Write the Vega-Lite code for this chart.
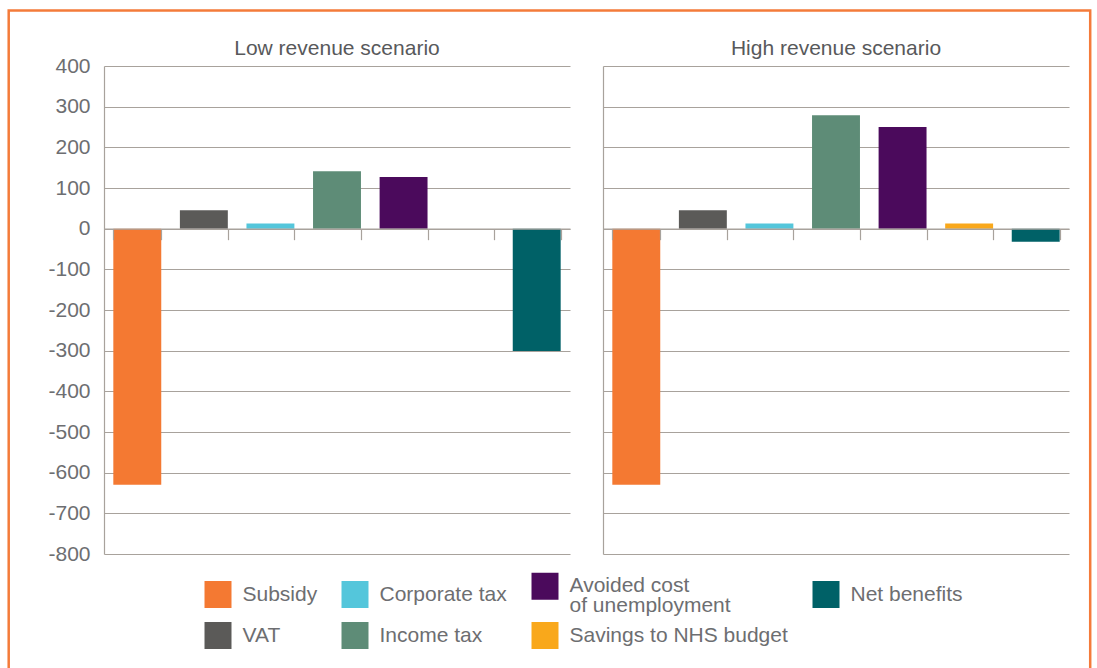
{
  "$schema": "https://vega.github.io/schema/vega-lite/v6.json",
  "padding": {"left": 8, "top": 10, "right": 5, "bottom": -4},
  "background": "white",
  "data": {
    "values": [
      {"scenario": "Low revenue scenario", "category": "Subsidy", "value": -630},
      {"scenario": "Low revenue scenario", "category": "VAT", "value": 45},
      {"scenario": "Low revenue scenario", "category": "Corporate tax", "value": 13},
      {"scenario": "Low revenue scenario", "category": "Income tax", "value": 141},
      {"scenario": "Low revenue scenario", "category": "Avoided cost of unemployment", "value": 127},
      {"scenario": "Low revenue scenario", "category": "Savings to NHS budget", "value": 0},
      {"scenario": "Low revenue scenario", "category": "Net benefits", "value": -301},
      {"scenario": "High revenue scenario", "category": "Subsidy", "value": -630},
      {"scenario": "High revenue scenario", "category": "VAT", "value": 45},
      {"scenario": "High revenue scenario", "category": "Corporate tax", "value": 13},
      {"scenario": "High revenue scenario", "category": "Income tax", "value": 279},
      {"scenario": "High revenue scenario", "category": "Avoided cost of unemployment", "value": 250},
      {"scenario": "High revenue scenario", "category": "Savings to NHS budget", "value": 13},
      {"scenario": "High revenue scenario", "category": "Net benefits", "value": -32}
    ]
  },
  "spacing": 33,
  "resolve": {
    "scale": {"color": "shared", "stroke": "shared"},
    "legend": {"color": "shared", "stroke": "shared"}
  },
  "hconcat": [
    {
      "width": 466,
      "height": 488,
      "title": {"text": "Low revenue scenario", "offset": -4},
      "transform": [{"filter": "datum.scenario == 'Low revenue scenario'"}],
      "mark": {"type": "bar"},
      "encoding": {
        "x": {
          "field": "category", "type": "nominal",
          "sort": ["Subsidy", "VAT", "Corporate tax", "Income tax", "Avoided cost of unemployment", "Savings to NHS budget", "Net benefits"],
          "scale": {"paddingInner": 0.28, "paddingOuter": 0.14},
          "axis": {"title": null, "labels": false, "offset": -325.33, "tickBand": "extent", "tickSize": 11, "grid": false, "zindex": 1}
        },
        "y": {
          "field": "value", "type": "quantitative",
          "scale": {"domain": [-800, 400], "nice": false},
          "axis": {"title": null, "values": [-800, -700, -600, -500, -400, -300, -200, -100, 0, 100, 200, 300, 400], "ticks": false, "labelPadding": 14, "labelExpr": "replace(datum.label, '−', '-')"}
        },
        "color": {
          "field": "category", "type": "nominal",
          "scale": {
            "domain": ["Subsidy", "VAT", "Corporate tax", "Income tax", "Avoided cost of unemployment", "Savings to NHS budget", "Net benefits"],
            "range": ["#f47932", "#5b5a58", "#54c6db", "#5e8c77", "#4b0a5c", "#f9a81b", "#006167"]
          },
          "legend": {
            "orient": "none", "legendX": 100.5, "legendY": 506.5,
            "columns": 4, "columnPadding": 24, "rowPadding": 5.5,
            "symbolType": "square", "symbolSize": 729, "symbolStrokeWidth": 0, "symbolOpacity": 1,
            "labelFontSize": 21, "labelColor": "#6d6e71", "labelFont": "Liberation Sans", "labelOffset": 11, "labelLimit": 400,
            "title": null,
            "labelExpr": "datum.label == 'Avoided cost of unemployment' ? ['Avoided cost', 'of unemployment'] : datum.label",
            "encode": {"labels": {"update": {"lineHeight": {"value": 20}}}}
          }
        }
      }
    },
    {
      "width": 466,
      "height": 488,
      "title": {"text": "High revenue scenario", "offset": 7},
      "layer": [
        {
          "transform": [{"filter": "datum.scenario == 'High revenue scenario'"}],
          "mark": {"type": "bar"},
          "encoding": {
            "x": {
              "field": "category", "type": "nominal",
              "sort": ["Subsidy", "VAT", "Corporate tax", "Income tax", "Avoided cost of unemployment", "Savings to NHS budget", "Net benefits"],
              "scale": {"paddingInner": 0.28, "paddingOuter": 0.14},
              "axis": {"title": null, "labels": false, "offset": -325.33, "tickBand": "extent", "tickSize": 11, "grid": false, "zindex": 1}
            },
            "y": {
              "field": "value", "type": "quantitative",
              "scale": {"domain": [-800, 400], "nice": false},
              "axis": {"title": null, "values": [-800, -700, -600, -500, -400, -300, -200, -100, 0, 100, 200, 300, 400], "ticks": false, "labels": false}
            },
            "color": {"field": "category", "type": "nominal"}
          }
        },
        {
          "data": {"values": [{"f": 0}, {"f": 1}]},
          "mark": {"type": "point", "opacity": 0},
          "encoding": {
            "stroke": {
              "field": "f", "type": "quantitative",
              "scale": {"domain": [0, 1], "range": ["rgba(255,255,255,0)", "rgba(255,255,255,0)"]},
              "legend": {
                "orient": "none", "legendX": -95.3, "legendY": -55.5, "direction": "horizontal",
                "gradientLength": 1081.5, "gradientThickness": 660,
                "gradientStrokeColor": "#f47b3a", "gradientStrokeWidth": 2.5,
                "labels": false, "title": null, "padding": 0
              }
            }
          }
        }
      ]
    }
  ],
  "config": {
    "font": "Liberation Sans",
    "view": {"stroke": null},
    "title": {"fontSize": 21, "fontWeight": "normal", "color": "#58595b", "font": "Liberation Sans"},
    "axis": {
      "gridColor": "#a8a29c", "domainColor": "#a8a29c", "tickColor": "#a8a29c",
      "gridWidth": 1.2, "domainWidth": 1.2, "tickWidth": 1.2,
      "labelFont": "Liberation Sans", "labelFontSize": 21, "labelColor": "#6d6e71"
    }
  }
}
